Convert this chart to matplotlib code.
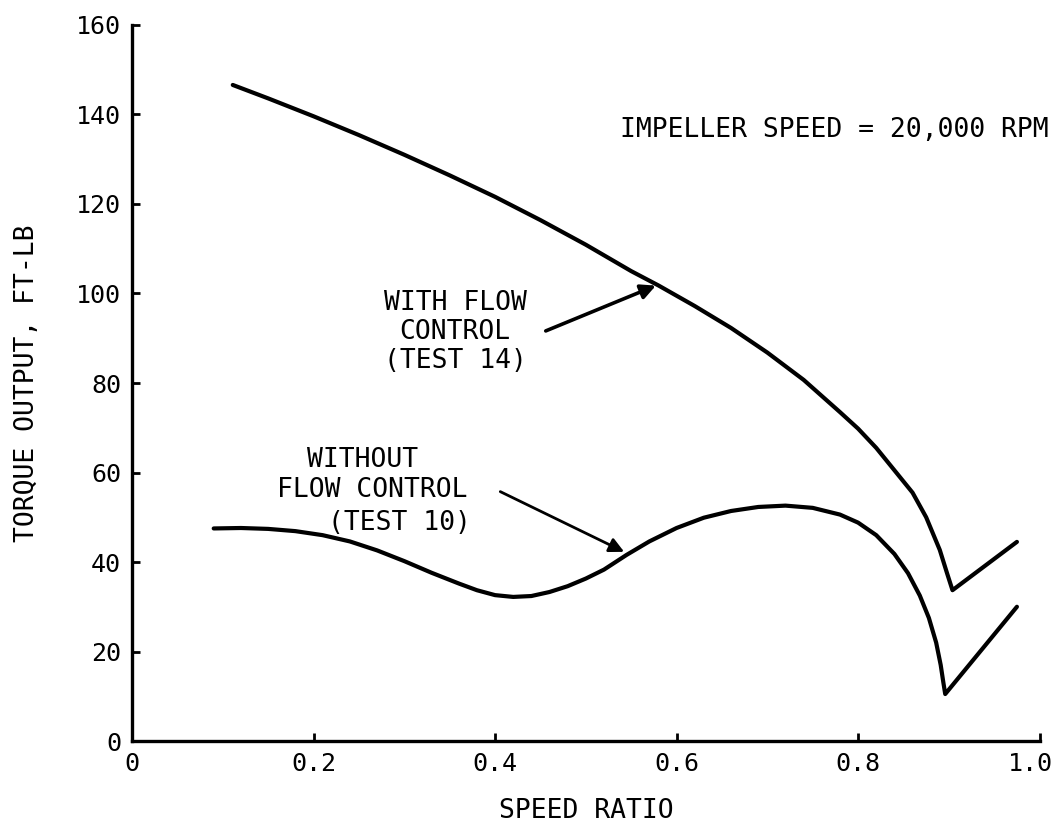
import matplotlib
matplotlib.use('Agg')
import matplotlib.pyplot as plt
import matplotlib.transforms as mtransforms

# Torque output vs speed ratio, impeller speed 20,000 RPM
with_x = [0.111, 0.15, 0.20, 0.25, 0.30, 0.35, 0.40, 0.45, 0.50, 0.55, 0.58, 0.62, 0.66,
          0.70, 0.74, 0.78, 0.80, 0.82, 0.84, 0.86, 0.875, 0.89, 0.898, 0.904, 0.975]
with_y = [146.6, 143.6, 139.6, 135.4, 131.0, 126.4, 121.6, 116.4, 110.9, 105.0, 101.8, 97.2, 92.3,
          86.8, 80.7, 73.5, 69.8, 65.5, 60.5, 55.5, 50.0, 42.7, 37.5, 33.7, 44.5]

without_x = [0.09, 0.12, 0.15, 0.18, 0.21, 0.24, 0.27, 0.30, 0.33, 0.36, 0.38, 0.40, 0.42, 0.44,
             0.46, 0.48, 0.50, 0.52, 0.545, 0.57, 0.60, 0.63, 0.66, 0.69, 0.72, 0.75, 0.78, 0.80,
             0.82, 0.84, 0.855, 0.868, 0.878, 0.886, 0.891, 0.894, 0.896, 0.975]
without_y = [47.5, 47.6, 47.4, 46.9, 46.0, 44.6, 42.6, 40.2, 37.6, 35.2, 33.7, 32.6, 32.2, 32.4,
             33.3, 34.6, 36.3, 38.3, 41.6, 44.6, 47.6, 49.9, 51.4, 52.3, 52.6, 52.1, 50.6, 48.8,
             46.0, 41.8, 37.5, 32.5, 27.5, 22.0, 17.0, 13.0, 10.5, 30.0]

x_ticks = [0, 0.2, 0.4, 0.6, 0.8, 1.0]
x_tick_labels = ['0', '0.2', '0.4', '0.6', '0.8', '1.0']
y_ticks = [0, 20, 40, 60, 80, 100, 120, 140, 160]

font = 'DejaVu Sans Mono'
fs = 19

fig = plt.figure(figsize=(10.63, 8.30), dpi=100)
ax = fig.add_axes([0.1242, 0.1072, 0.8538, 0.8627])

ax.plot(with_x, with_y, color='black', lw=3, solid_capstyle='round', solid_joinstyle='round')
ax.plot(without_x, without_y, color='black', lw=3, solid_capstyle='round', solid_joinstyle='round')

ax.set_xlim(0, 1.0)
ax.set_ylim(0, 160)
ax.set_xticks(x_ticks)
ax.set_xticklabels(x_tick_labels)
ax.set_yticks(y_ticks)

for s in ['top', 'right']:
    ax.spines[s].set_visible(False)
for s in ['left', 'bottom']:
    ax.spines[s].set_linewidth(2.4)

ax.tick_params(direction='in', length=6, width=2, labelsize=18, pad=8)
for lbl in ax.get_xticklabels() + ax.get_yticklabels():
    lbl.set_fontfamily(font)
# last x label sits a bit left of its tick
last = ax.get_xticklabels()[-1]
last.set_transform(last.get_transform() + mtransforms.ScaledTranslation(-0.09, 0, fig.dpi_scale_trans))

ax.set_xlabel('SPEED RATIO', fontsize=fs, family=font, labelpad=16)
ax.set_ylabel('TORQUE OUTPUT, FT-LB', fontsize=fs, family=font, labelpad=26)

# annotations
ax.text(1.01, 136.5, 'IMPELLER SPEED = 20,000 RPM', fontsize=fs, family=font,
        ha='right', va='center', clip_on=False)

ax.text(0.356, 91.4, 'WITH FLOW\nCONTROL\n(TEST 14)', fontsize=fs, family=font,
        ha='center', va='center', linespacing=1.15)
ax.annotate('', xy=(0.58, 102), xytext=(0.453, 91.4),
            arrowprops=dict(arrowstyle='-|>', color='black', lw=2.6, mutation_scale=22))

ax.text(0.2545, 62.8, 'WITHOUT', fontsize=fs, family=font, ha='center', va='center')
ax.text(0.2645, 56.1, 'FLOW CONTROL', fontsize=fs, family=font, ha='center', va='center')
ax.text(0.295, 48.7, '(TEST 10)', fontsize=fs, family=font, ha='center', va='center')
ax.annotate('', xy=(0.545, 42), xytext=(0.403, 56),
            arrowprops=dict(arrowstyle='-|>', color='black', lw=2.0, mutation_scale=22))

fig.savefig('out.png', dpi=100)
